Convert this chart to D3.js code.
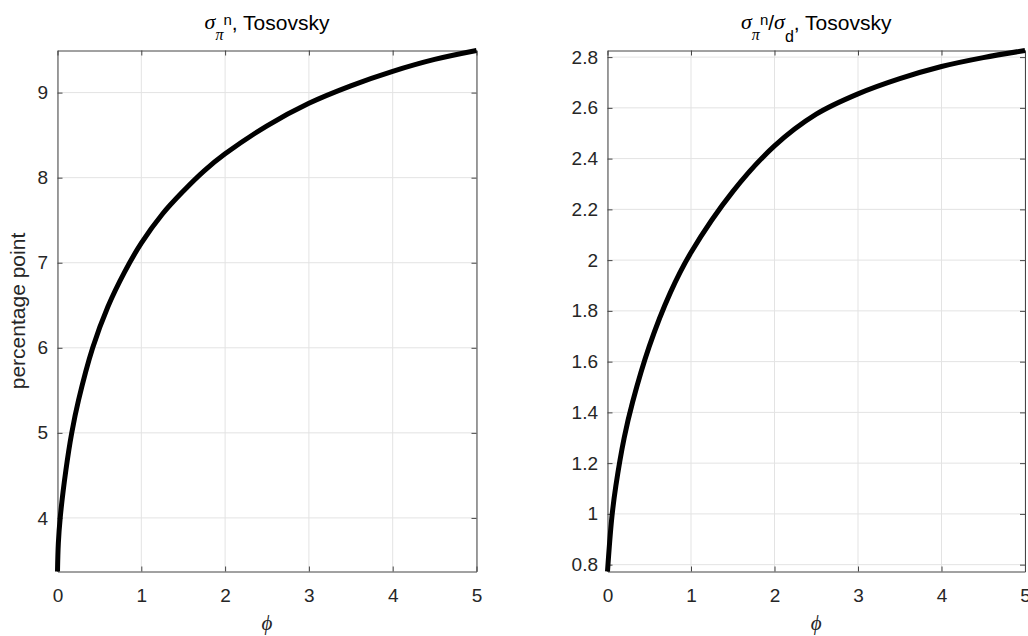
<!DOCTYPE html>
<html>
<head>
<meta charset="utf-8">
<script src="https://cdn.jsdelivr.net/npm/d3@7"></script>
<style>
  html, body { margin: 0; padding: 0; background: #fff; }
  svg { display: block; }
</style>
</head>
<body>
<script>
// ---- data ----
const phiTicks = [0, 1, 2, 3, 4, 5];
const leftYTicks = [4, 5, 6, 7, 8, 9];
const rightYTicks = [0.8, 1, 1.2, 1.4, 1.6, 1.8, 2, 2.2, 2.4, 2.6, 2.8];
const leftYDomain = [3.37, 9.495];
const rightYDomain = [0.773, 2.826];

const phiLeft   = [0, 0.01, 0.032, 0.1, 0.17, 0.25, 0.42, 0.6, 0.8, 1.0, 1.25, 1.5, 1.75, 2.0, 2.5, 3.0, 3.5, 4.0, 4.5, 5.0];
const sigmaPiN  = [3.37, 3.7, 4.0, 4.56, 5.0, 5.38, 6.0, 6.48, 6.89, 7.23, 7.57, 7.84, 8.08, 8.28, 8.61, 8.875, 9.08, 9.25, 9.39, 9.495];

const phiRight   = [0, 0.05, 0.1, 0.2, 0.3, 0.5, 0.75, 1.0, 1.5, 2.0, 2.5, 3.0, 3.5, 4.0, 4.5, 5.0];
const sigmaRatio = [0.773, 0.98, 1.11, 1.30, 1.44, 1.66, 1.87, 2.03, 2.27, 2.45, 2.575, 2.655, 2.715, 2.763, 2.798, 2.826];

const xLabel = "ϕ";
const yLabelLeft = "percentage point";

// ---- drawing ----
const W = 1028, H = 636;
const svg = d3.select("body").append("svg").attr("width", W).attr("height", H);

const sans = "'Liberation Sans', Arial, Helvetica, sans-serif";
const serif = "'Liberation Serif', 'DejaVu Serif', serif";
const tickFS = 19, labelFS = 21;
const axisColor = "#454545", gridColor = "#e3e3e3";
const plotTop = 50.5, plotBottom = 571.5;

function panel(x0, x1, yDomain, yTicks, phi, vals, titleParts, yLabel) {
  const x = d3.scaleLinear().domain([0, 5]).range([x0, x1]);
  const y = d3.scaleLinear().domain(yDomain).range([plotBottom, plotTop]);
  const g = svg.append("g");

  // grid
  g.selectAll(".gx").data(phiTicks).join("line")
    .attr("x1", d => x(d)).attr("x2", d => x(d)).attr("y1", plotTop).attr("y2", plotBottom)
    .attr("stroke", gridColor).attr("stroke-width", 1);
  g.selectAll(".gy").data(yTicks).join("line")
    .attr("x1", x0).attr("x2", x1).attr("y1", d => y(d)).attr("y2", d => y(d))
    .attr("stroke", gridColor).attr("stroke-width", 1);

  // axes (ticks inside), box
  const tl = 5;
  const ax = [
    g.append("g").attr("transform", `translate(0,${plotBottom})`).call(d3.axisBottom(x).tickValues(phiTicks).tickSizeInner(-tl).tickSizeOuter(0).tickPadding(17).tickFormat(d3.format("~g"))),
    g.append("g").attr("transform", `translate(0,${plotTop})`).call(d3.axisTop(x).tickValues(phiTicks).tickSizeInner(-tl).tickSizeOuter(0).tickFormat("")),
    g.append("g").attr("transform", `translate(${x0},0)`).call(d3.axisLeft(y).tickValues(yTicks).tickSizeInner(-tl).tickSizeOuter(0).tickPadding(9.5).tickFormat(d3.format("~g"))),
    g.append("g").attr("transform", `translate(${x1},0)`).call(d3.axisRight(y).tickValues(yTicks).tickSizeInner(-tl).tickSizeOuter(0).tickFormat(""))
  ];
  ax.forEach(a => {
    a.selectAll("path").attr("stroke", axisColor).attr("stroke-width", 1);
    a.selectAll("line").attr("stroke", axisColor).attr("stroke-width", 1);
    a.selectAll("text").attr("fill", "#262626").style("font-family", sans).style("font-size", tickFS + "px");
  });

  // line
  const pts = phi.map((p, i) => [p, vals[i]]);
  g.append("path").datum(pts)
    .attr("fill", "none").attr("stroke", "#000").attr("stroke-width", 5)
    .attr("d", d3.line().x(d => x(d[0])).y(d => y(d[1])).curve(d3.curveCatmullRom.alpha(0.5)));

  // x label
  g.append("text").attr("x", (x0 + x1) / 2).attr("y", 630)
    .attr("text-anchor", "middle").style("font-family", serif).style("font-style", "italic")
    .style("font-size", labelFS + "px").attr("fill", "#262626").text(xLabel);

  // y label
  if (yLabel) {
    g.append("text").attr("transform", `translate(25,${(plotTop + plotBottom) / 2}) rotate(-90)`)
      .attr("text-anchor", "middle").style("font-family", sans).style("font-size", labelFS + "px")
      .attr("fill", "#262626").text(yLabel);
  }

  // title
  const t = g.append("text").attr("x", (x0 + x1) / 2).attr("y", 30)
    .attr("text-anchor", "middle").attr("fill", "#000");
  let cur = 0;
  titleParts.forEach(p => {
    t.append("tspan")
      .attr("dy", p.shift - cur)
      .style("font-family", p.serif ? serif : sans)
      .style("font-style", p.serif ? "italic" : "normal")
      .style("font-size", p.size + "px")
      .text(p.text);
    cur = p.shift;
  });
}

panel(57.5, 476.5, leftYDomain, leftYTicks, phiLeft, sigmaPiN, [
  { text: "σ", serif: true, size: 22, shift: -1 },
  { text: "π", serif: true, size: 16, shift: 10 },
  { text: "n", serif: false, size: 15, shift: -5 },
  { text: ", Tosovsky", serif: false, size: 21, shift: 0 }
], yLabelLeft);

panel(607.5, 1025, rightYDomain, rightYTicks, phiRight, sigmaRatio, [
  { text: "σ", serif: true, size: 22, shift: -1 },
  { text: "π", serif: true, size: 16, shift: 10 },
  { text: "n", serif: false, size: 15, shift: -5 },
  { text: "/", serif: false, size: 21, shift: 0 },
  { text: "σ", serif: true, size: 22, shift: -1 },
  { text: "d", serif: false, size: 16, shift: 12 },
  { text: ", Tosovsky", serif: false, size: 21, shift: 0 }
], null);
</script>
</body>
</html>
